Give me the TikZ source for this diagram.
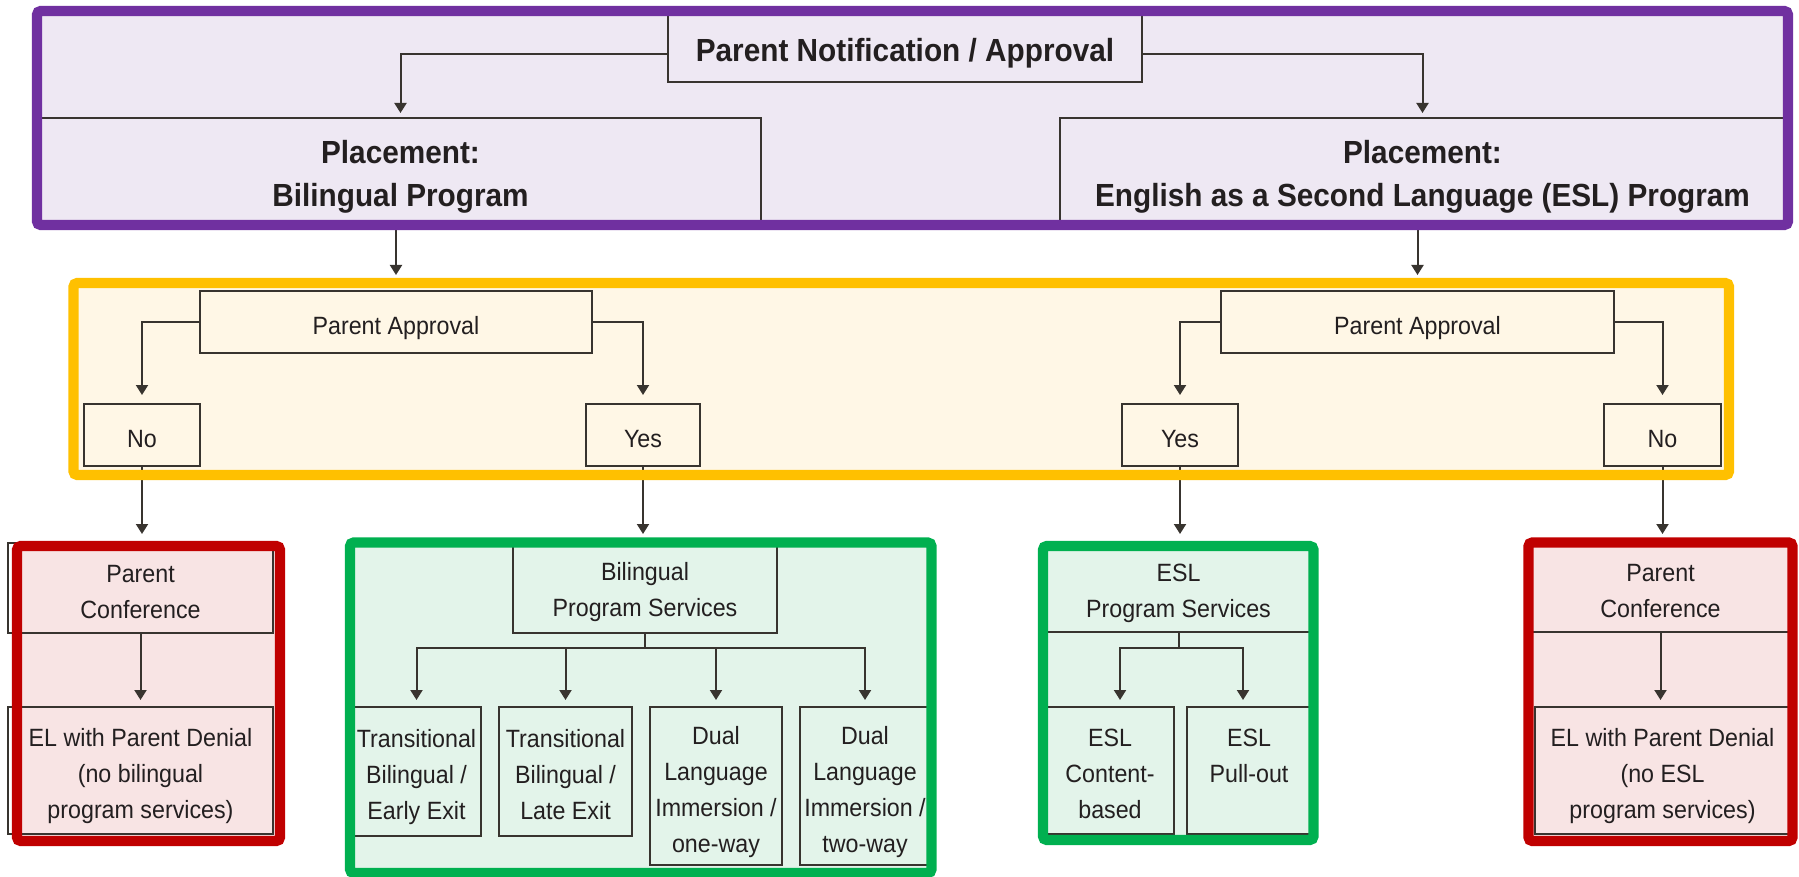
\documentclass[tikz,border=0pt]{standalone}
\usepackage{fontspec}
\setmainfont{Liberation Sans}
\newfontfamily\boxfont{Liberation Sans}[FakeStretch=0.93]
\usetikzlibrary{arrows.meta}
\pgfdeclarelayer{back}
\pgfdeclarelayer{front}
\pgfsetlayers{back,main,front}

\definecolor{ink}{HTML}{231F20}
\definecolor{boxline}{HTML}{38342F}
\definecolor{purpleline}{HTML}{7030A0}
\definecolor{purplefill}{HTML}{EEE8F3}
\definecolor{yellowline}{HTML}{FFC000}
\definecolor{yellowfill}{HTML}{FFF7E6}
\definecolor{redline}{HTML}{C00000}
\definecolor{redfill}{HTML}{F8E4E4}
\definecolor{greenline}{HTML}{00B050}
\definecolor{greenfill}{HTML}{E3F4EA}

\newcommand\boxtext{\boxfont\fontsize{12.5}{18}\selectfont}
\newcommand\headtext{\boxfont\bfseries\fontsize{16}{21.5}\selectfont}
% centred stack of lines, set a little low in its box
\newcommand\lines[1]{\vbox{\vskip5pt\hbox{\begin{tabular}{@{}c@{}}#1\end{tabular}}}}

\begin{document}
\begin{tikzpicture}[x=0.5pt,y=-0.5pt,
  % a rectangle given by its two corners (x1,y1,x2,y2)
  corners/.style n args={4}{at={({(#1+#3)/2},{(#2+#4)/2})},
    minimum width={(#3-(#1))*0.5pt}, minimum height={(#4-(#2))*0.5pt}},
  area/.style={inner sep=0pt, outer sep=0pt},
  box/.style={draw=boxline, line width=1.2pt, inner sep=0pt, outer sep=0pt,
    text=ink, font=\boxtext},
  headbox/.style={box, font=\headtext},
  link/.style={draw=boxline, line width=1pt, -{Triangle[width=6pt,length=5pt]}},
  framefill/.style={fill=#1, rounded corners=2pt},
  frameline/.style={draw=#1, line width=5.2pt, rounded corners=2pt}]

\useasboundingbox (0,0) rectangle (1799,877);

% group areas (centre lines of the coloured borders)
\node[area, corners={37}{11}{1788}{225}] (P) {};
\node[area, corners={73.5}{283}{1729}{475}] (Y) {};
\node[area, corners={17}{546}{280}{841}] (RL) {};
\node[area, corners={350}{542.5}{931.5}{873}] (GB) {};
\node[area, corners={1043}{546}{1313.5}{840}] (GE) {};
\node[area, corners={1528.5}{542.5}{1792.5}{841}] (RR) {};

\begin{pgfonlayer}{back}
  \fill[framefill=purplefill] (P.north west) rectangle (P.south east);
  \fill[framefill=yellowfill] (Y.north west) rectangle (Y.south east);
  \fill[framefill=redfill] (RL.north west) rectangle (RL.south east);
  \fill[framefill=greenfill] (GB.north west) rectangle (GB.south east);
  \fill[framefill=greenfill] (GE.north west) rectangle (GE.south east);
  \fill[framefill=redfill] (RR.north west) rectangle (RR.south east);
\end{pgfonlayer}

% placement level
\node[headbox, corners={668}{14}{1142}{82}] (PN) {\lines{Parent Notification / Approval}};
\node[headbox, corners={40}{118}{761}{224}] (PlBil) {\lines{Placement:\\Bilingual Program}};
\node[headbox, corners={1060}{118}{1785}{224}] (PlESL) {\lines{Placement:\\English as a Second Language (ESL) Program}};

% parent approval level
\node[box, corners={200}{291}{592}{353}] (PAL) {\lines{Parent Approval}};
\node[box, corners={84}{404}{200}{466}] (NoL) {\lines{No}};
\node[box, corners={586}{404}{700}{466}] (YesL) {\lines{Yes}};
\node[box, corners={1221}{291}{1614}{353}] (PAR) {\lines{Parent Approval}};
\node[box, corners={1122}{404}{1238}{466}] (YesR) {\lines{Yes}};
\node[box, corners={1604}{404}{1721}{466}] (NoR) {\lines{No}};

% outcomes, bilingual side
\node[box, corners={8}{543}{273}{633}] (PCL) {\lines{Parent\\Conference}};
\node[box, corners={8}{707}{273}{834}] (ELL) {\lines{EL with Parent Denial\\(no bilingual\\program services)}};
\node[box, corners={513}{540}{777}{633}] (BPS) {\lines{Bilingual\\Program Services}};
\node[box, corners={352}{707}{481}{836}] (TBE) {\lines{Transitional\\Bilingual /\\Early Exit}};
\node[box, corners={499}{707}{632}{836}] (TBL) {\lines{Transitional\\Bilingual /\\Late Exit}};
\node[box, corners={650}{707}{782}{865}] (DL1) {\lines{Dual\\Language\\Immersion /\\one-way}};
\node[box, corners={800}{707}{930}{865}] (DL2) {\lines{Dual\\Language\\Immersion /\\two-way}};

% outcomes, ESL side
\node[box, corners={1046}{543}{1311}{632}] (ESLPS) {\lines{ESL\\Program Services}};
\node[box, corners={1046}{707}{1174}{834}] (ESLC) {\lines{ESL\\Content-\\based}};
\node[box, corners={1187}{707}{1311}{834}] (ESLP) {\lines{ESL\\Pull-out\\\mbox{}}};
\node[box, corners={1531}{543}{1790}{632}] (PCR) {\lines{Parent\\Conference}};
\node[box, corners={1535}{707}{1790}{834}] (ELR) {\lines{EL with Parent Denial\\(no ESL\\program services)}};

% connectors
\draw[link, shorten >=2.5pt] ([yshift=-3pt]PN.west) -| (PlBil.north);
\draw[link, shorten >=2.5pt] ([yshift=-3pt]PN.east) -| (PlESL.north);
\draw[link, shorten >=8pt] (PlBil.south -| PAL.north) -- (PAL.north);
\draw[link, shorten >=8pt] (PlESL.south -| PAR.north) -- (PAR.north);

\draw[link, shorten >=4.5pt] (PAL.west) -| (NoL.north);
\draw[link, shorten >=4.5pt] (PAL.east) -| (YesL.north);
\draw[link, shorten >=4.5pt] (PAR.west) -| (YesR.north);
\draw[link, shorten >=4.5pt] (PAR.east) -| (NoR.north);

\draw[link, shorten >=4.5pt] (NoL.south) -- (NoL.south |- PCL.north);
\draw[link, shorten >=3pt] (YesL.south) -- (YesL.south |- BPS.north);
\draw[link, shorten >=4.5pt] (YesR.south) -- (YesR.south |- ESLPS.north);
\draw[link, shorten >=4.5pt] (NoR.south) -- (NoR.south |- PCR.north);

\draw[link, shorten >=3.5pt] (PCL.south) -- (PCL.south |- ELL.north);
\draw[link, shorten >=3.5pt] (PCR.south) -- (PCR.south |- ELR.north);

\foreach \target in {TBE,TBL,DL1,DL2}
  \draw[link, shorten >=3.5pt] (BPS.south) -- ++(0,15) -| (\target.north);
\draw[link, shorten >=3.5pt] (ESLPS.south) -- ++(0,16) -| ([xshift=5pt]ESLC.north);
\draw[link, shorten >=3.5pt] (ESLPS.south) -- ++(0,16) -| ([xshift=-3pt]ESLP.north);

\begin{pgfonlayer}{front}
  \draw[frameline=purpleline] (P.north west) rectangle (P.south east);
  \draw[frameline=yellowline] (Y.north west) rectangle (Y.south east);
  \draw[frameline=redline] (RL.north west) rectangle (RL.south east);
  \draw[frameline=greenline] (GB.north west) rectangle (GB.south east);
  \draw[frameline=greenline] (GE.north west) rectangle (GE.south east);
  \draw[frameline=redline] (RR.north west) rectangle (RR.south east);
\end{pgfonlayer}
\end{tikzpicture}
\end{document}
